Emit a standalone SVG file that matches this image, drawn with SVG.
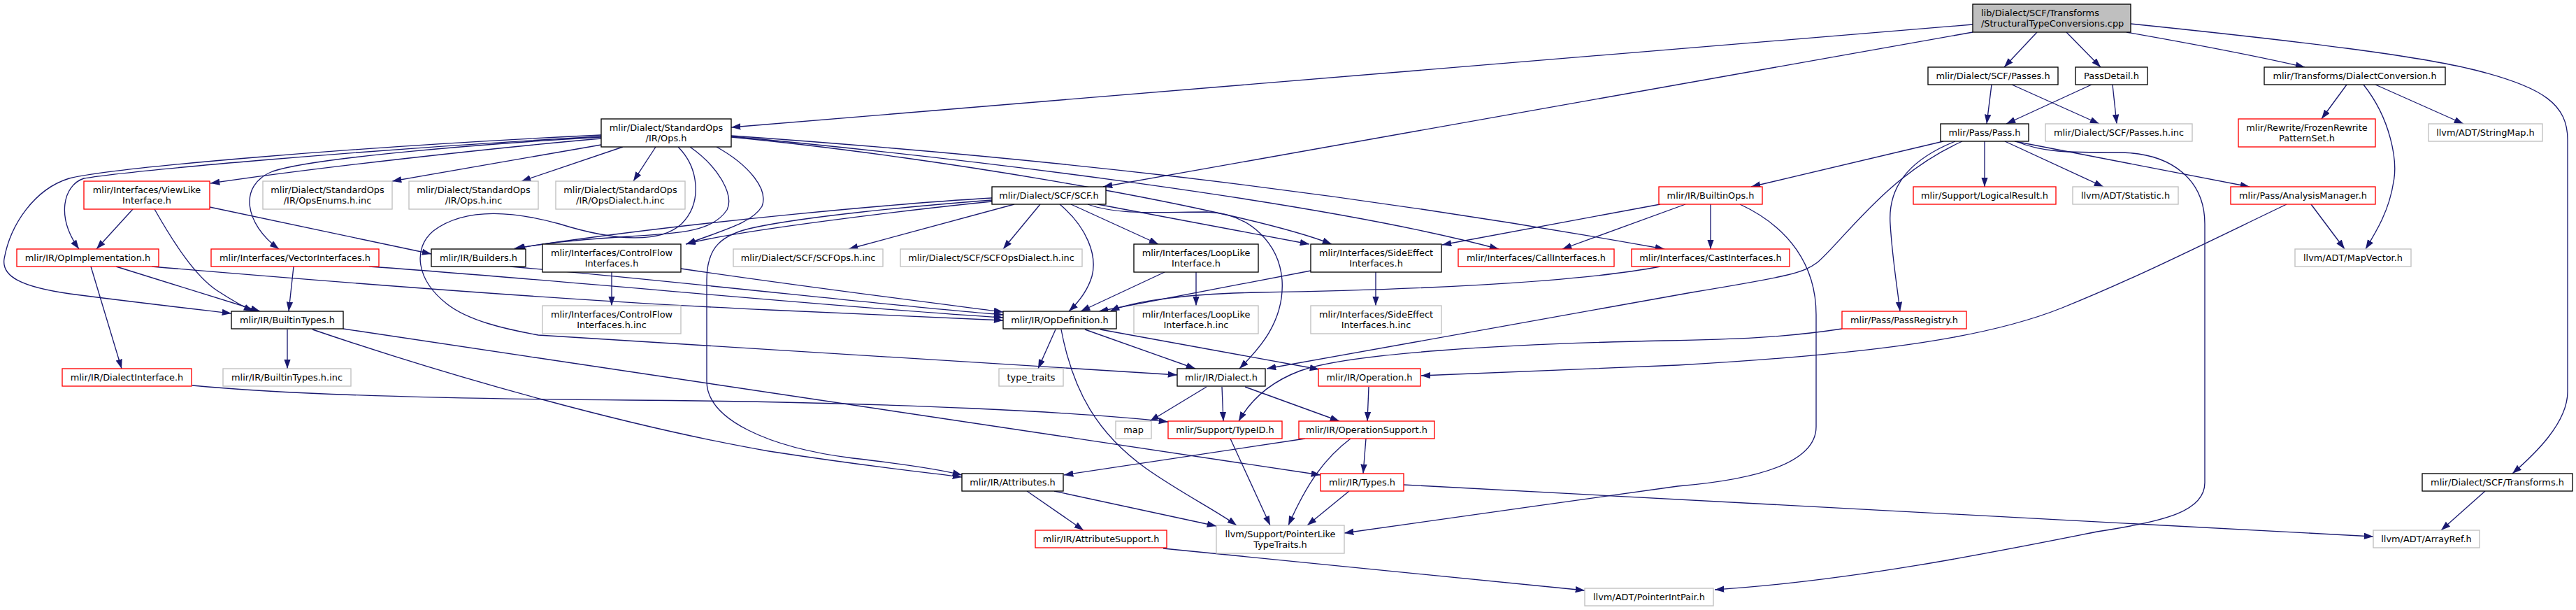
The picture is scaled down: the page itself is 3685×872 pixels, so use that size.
<svg xmlns="http://www.w3.org/2000/svg" width="3685" height="872" viewBox="0 0 3685 872">
<defs>
<style>
.k{fill:#fff;stroke:#000;stroke-width:1.33}
.r{fill:#fff;stroke:#f00;stroke-width:1.33}
.g{fill:#fff;stroke:#bfbfbf;stroke-width:1.33}
.rt{fill:#bfbfbf;stroke:#000;stroke-width:1.33}
text{font-family:"DejaVu Sans","Liberation Sans",sans-serif;font-size:12.9px;fill:#000;text-anchor:middle}
text.l{text-anchor:start}
.e{fill:none;stroke:#191970;stroke-width:1.33;marker-end:url(#ah)}
</style>
<marker id="ah" markerUnits="userSpaceOnUse" markerWidth="14" markerHeight="10" refX="13.3" refY="4.7" orient="auto">
<path d="M0,0 L13.3,4.7 L0,9.4 Z" fill="#191970"/>
</marker>
</defs>
<rect width="3685" height="872" fill="#fff"/>
<g id="edges">
<path class="e" d="M2822,35 L1046,182"/>
<path class="e" d="M2822,46 L1578,267"/>
<path class="e" d="M2914,46 L2867,96"/>
<path class="e" d="M2956,46 L3005,96"/>
<path class="e" d="M3042,46 C3150,65 3250,85 3297,96"/>
<path class="e" d="M3048,34 C3300,60 3460,80 3540,100 C3640,125 3673,150 3673,200 L3673,560 C3673,605 3625,650 3594,677"/>
<path class="e" d="M2849,121 L2842,177"/>
<path class="e" d="M2878,121 L3003,177"/>
<path class="e" d="M2992,121 L2870,177"/>
<path class="e" d="M3022,121 L3028,177"/>
<path class="e" d="M3357,121 L3321,170"/>
<path class="e" d="M3381,121 C3420,170 3430,230 3424,260 C3418,300 3400,330 3384,356"/>
<path class="e" d="M3398,121 L3524,177"/>
<path class="e" d="M2780,202 L2505,267"/>
<path class="e" d="M2839,202 L2839,267"/>
<path class="e" d="M2868,202 L3009,267"/>
<path class="e" d="M2882,202 L3218,267"/>
<path class="e" d="M2797,202 C2740,225 2700,260 2704,320 C2707,370 2714,410 2718,445"/>
<path class="e" d="M2807,202 C2700,250 2640,340 2600,375 C2580,390 2560,395 2420,418 L1812,527"/>
<path class="e" d="M2884,202 C2920,218 2960,218 3030,218 C3110,218 3154,260 3154,320 L3154,690 C3154,730 3100,745 3000,760 C2850,790 2650,830 2453,843"/>
<path class="e" d="M2375,292 L2063,350"/>
<path class="e" d="M2411,292 L2235,356"/>
<path class="e" d="M2447,292 L2447,356"/>
<path class="e" d="M2489,292 C2560,325 2598,380 2598,450 L2598,610 C2598,660 2520,685 2400,695 C2250,715 2050,745 1923,762"/>
<path class="e" d="M3306,292 L3354,356"/>
<path class="e" d="M3271,292 C3150,350 3050,400 2950,440 C2850,480 2700,505 2400,522 C2250,528 2100,535 2033,537"/>
<path class="e" d="M2635,470 C2550,483 2480,485 2380,487 C2150,492 1930,505 1860,530 C1820,545 1790,570 1772,602"/>
<path class="e" d="M1451,292 L1214,356"/>
<path class="e" d="M1488,292 L1435,356"/>
<path class="e" d="M1516,292 C1555,325 1570,365 1562,395 C1556,415 1545,430 1529,445"/>
<path class="e" d="M1532,292 L1657,349"/>
<path class="e" d="M1556,292 C1600,308 1660,303 1726,303 C1790,305 1830,350 1834,400 C1838,460 1800,500 1773,527"/>
<path class="e" d="M1570,292 L1873,349"/>
<path class="e" d="M1419,283 C1300,290 1000,315 736,355"/>
<path class="e" d="M1419,288 C1300,300 1050,330 981,349"/>
<path class="e" d="M1419,286 C1300,295 1150,310 1080,325 C1030,335 1011,355 1011,400 L1011,545 C1011,600 1100,640 1220,655 C1290,663 1340,670 1376,679"/>
<path class="e" d="M891,210 L746,259"/>
<path class="e" d="M938,210 L906,259"/>
<path class="e" d="M970,210 C1000,240 1005,290 975,320 C945,348 880,345 800,320 C720,298 660,300 620,330 C590,355 595,400 640,435 C670,458 720,470 770,479 L1684,536"/>
<path class="e" d="M987,210 C1030,240 1050,280 1040,300 C1020,330 980,333 900,338 C820,343 770,348 738,356"/>
<path class="e" d="M1025,210 C1070,235 1100,270 1090,295 C1075,320 1030,330 982,349"/>
<path class="e" d="M1046,196 C1350,225 1780,300 1905,349"/>
<path class="e" d="M1046,195 C1400,228 1900,290 2144,356"/>
<path class="e" d="M1046,194 C1446,222 1881,266 2381,356"/>
<path class="e" d="M860,207 L561,259"/>
<path class="e" d="M860,198 C700,212 450,240 301,262"/>
<path class="e" d="M860,196 C700,205 450,225 390,245 C340,265 350,320 399,356"/>
<path class="e" d="M860,195 C500,215 180,245 120,255 C90,265 80,310 113,356"/>
<path class="e" d="M860,193 C500,210 160,240 99,255 C50,270 15,320 6,370 C2,395 30,410 100,420 C200,433 280,442 331,448"/>
<path class="e" d="M190,299 L138,356"/>
<path class="e" d="M221,299 C250,350 280,395 310,415 C330,428 345,437 362,445"/>
<path class="e" d="M300,296 L617,363"/>
<path class="e" d="M130,381 L174,527"/>
<path class="e" d="M166,381 L372,445"/>
<path class="e" d="M217,381 C500,405 850,432 1100,443 C1300,452 1400,456 1435,458"/>
<path class="e" d="M420,381 L413,445"/>
<path class="e" d="M528,381 C800,400 1200,440 1435,454"/>
<path class="e" d="M730,381 C1000,405 1300,440 1435,450"/>
<path class="e" d="M974,384 C1150,410 1350,435 1435,446"/>
<path class="e" d="M875,389 L875,437"/>
<path class="e" d="M1666,389 L1546,445"/>
<path class="e" d="M1711,389 L1711,437"/>
<path class="e" d="M1875,387 L1572,445"/>
<path class="e" d="M2375,381 C2250,405 2000,415 1800,418 C1700,420 1620,430 1588,445"/>
<path class="e" d="M1968,389 L1968,437"/>
<path class="e" d="M411,471 L411,527"/>
<path class="e" d="M447,471 C650,540 900,610 1100,645 C1250,668 1330,676 1376,682"/>
<path class="e" d="M491,470 L1889,679"/>
<path class="e" d="M275,551 C400,563 600,570 900,572 C1300,575 1550,590 1671,603"/>
<path class="e" d="M1510,471 L1485,527"/>
<path class="e" d="M1552,471 L1710,527"/>
<path class="e" d="M1518,471 C1535,560 1570,620 1640,670 C1690,705 1740,730 1769,751"/>
<path class="e" d="M1574,471 L1887,528"/>
<path class="e" d="M1726,553 L1645,602"/>
<path class="e" d="M1748,553 L1750,602"/>
<path class="e" d="M1781,553 L1916,602"/>
<path class="e" d="M1958,553 L1956,602"/>
<path class="e" d="M1760,627 L1817,751"/>
<path class="e" d="M1867,627 L1522,679"/>
<path class="e" d="M1954,627 L1950,677"/>
<path class="e" d="M1932,627 C1895,655 1870,690 1843,751"/>
<path class="e" d="M1930,702 L1870,751"/>
<path class="e" d="M2008,693 L3395,767"/>
<path class="e" d="M1469,702 L1550,758"/>
<path class="e" d="M1508,702 L1740,752"/>
<path class="e" d="M1664,784 L2267,844"/>
<path class="e" d="M3555,702 L3492,758"/>
</g>
<g id="n_root"><rect class="rt" x="2822" y="6" width="226" height="40"/><text class="l" x="2834" y="23">lib/Dialect/SCF/Transforms</text><text class="l" x="2834" y="38">/StructuralTypeConversions.cpp</text></g>
<g id="n_passes"><rect class="k" x="2758" y="96" width="186" height="25"/><text x="2851" y="113">mlir/Dialect/SCF/Passes.h</text></g>
<g id="n_passdetail"><rect class="k" x="2969" y="96" width="103" height="25"/><text x="3020.5" y="113">PassDetail.h</text></g>
<g id="n_dconv"><rect class="k" x="3239" y="96" width="259" height="25"/><text x="3368.5" y="113">mlir/Transforms/DialectConversion.h</text></g>
<g id="n_opsh"><rect class="k" x="860" y="170" width="186" height="40"/><text x="953" y="187">mlir/Dialect/StandardOps</text><text x="953" y="202">/IR/Ops.h</text></g>
<g id="n_pass"><rect class="k" x="2776" y="177" width="126" height="25"/><text x="2839" y="194">mlir/Pass/Pass.h</text></g>
<g id="n_passesinc"><rect class="g" x="2926" y="177" width="210" height="25"/><text x="3031" y="194">mlir/Dialect/SCF/Passes.h.inc</text></g>
<g id="n_frozen"><rect class="r" x="3202" y="170" width="196" height="40"/><text x="3300" y="187">mlir/Rewrite/FrozenRewrite</text><text x="3300" y="202">PatternSet.h</text></g>
<g id="n_stringmap"><rect class="g" x="3474" y="177" width="163" height="25"/><text x="3555.5" y="194">llvm/ADT/StringMap.h</text></g>
<g id="n_scf"><rect class="k" x="1419" y="267" width="163" height="25"/><text x="1500.5" y="284">mlir/Dialect/SCF/SCF.h</text></g>
<g id="n_builtinops"><rect class="r" x="2373" y="267" width="148" height="25"/><text x="2447" y="284">mlir/IR/BuiltinOps.h</text></g>
<g id="n_logical"><rect class="r" x="2737" y="267" width="204" height="25"/><text x="2839" y="284">mlir/Support/LogicalResult.h</text></g>
<g id="n_statistic"><rect class="g" x="2965" y="267" width="151" height="25"/><text x="3040.5" y="284">llvm/ADT/Statistic.h</text></g>
<g id="n_analysis"><rect class="r" x="3191" y="267" width="207" height="25"/><text x="3294.5" y="284">mlir/Pass/AnalysisManager.h</text></g>
<g id="n_viewlike"><rect class="r" x="120" y="259" width="180" height="40"/><text x="210" y="276">mlir/Interfaces/ViewLike</text><text x="210" y="291">Interface.h</text></g>
<g id="n_opsenums"><rect class="g" x="376" y="259" width="185" height="40"/><text x="468.5" y="276">mlir/Dialect/StandardOps</text><text x="468.5" y="291">/IR/OpsEnums.h.inc</text></g>
<g id="n_opsinc"><rect class="g" x="585" y="259" width="185" height="40"/><text x="677.5" y="276">mlir/Dialect/StandardOps</text><text x="677.5" y="291">/IR/Ops.h.inc</text></g>
<g id="n_opsdialectinc"><rect class="g" x="795" y="259" width="185" height="40"/><text x="887.5" y="276">mlir/Dialect/StandardOps</text><text x="887.5" y="291">/IR/OpsDialect.h.inc</text></g>
<g id="n_opimpl"><rect class="r" x="24" y="356" width="203" height="25"/><text x="125.5" y="373">mlir/IR/OpImplementation.h</text></g>
<g id="n_vector"><rect class="r" x="302" y="356" width="240" height="25"/><text x="422" y="373">mlir/Interfaces/VectorInterfaces.h</text></g>
<g id="n_builders"><rect class="k" x="617" y="356" width="135" height="25"/><text x="684.5" y="373">mlir/IR/Builders.h</text></g>
<g id="n_controlflow"><rect class="k" x="776" y="349" width="198" height="40"/><text x="875" y="366">mlir/Interfaces/ControlFlow</text><text x="875" y="381">Interfaces.h</text></g>
<g id="n_scfopsinc"><rect class="g" x="1049" y="356" width="214" height="25"/><text x="1156" y="373">mlir/Dialect/SCF/SCFOps.h.inc</text></g>
<g id="n_scfopsdialectinc"><rect class="g" x="1288" y="356" width="260" height="25"/><text x="1418" y="373">mlir/Dialect/SCF/SCFOpsDialect.h.inc</text></g>
<g id="n_looplike"><rect class="k" x="1622" y="349" width="178" height="40"/><text x="1711" y="366">mlir/Interfaces/LoopLike</text><text x="1711" y="381">Interface.h</text></g>
<g id="n_sideeffect"><rect class="k" x="1875" y="349" width="187" height="40"/><text x="1968.5" y="366">mlir/Interfaces/SideEffect</text><text x="1968.5" y="381">Interfaces.h</text></g>
<g id="n_callif"><rect class="r" x="2086" y="356" width="223" height="25"/><text x="2197.5" y="373">mlir/Interfaces/CallInterfaces.h</text></g>
<g id="n_castif"><rect class="r" x="2334" y="356" width="226" height="25"/><text x="2447" y="373">mlir/Interfaces/CastInterfaces.h</text></g>
<g id="n_passregistry"><rect class="r" x="2635" y="445" width="178" height="25"/><text x="2724" y="462">mlir/Pass/PassRegistry.h</text></g>
<g id="n_mapvector"><rect class="g" x="3283" y="356" width="166" height="25"/><text x="3366" y="373">llvm/ADT/MapVector.h</text></g>
<g id="n_builtintypes"><rect class="k" x="331" y="445" width="160" height="25"/><text x="411" y="462">mlir/IR/BuiltinTypes.h</text></g>
<g id="n_controlflowinc"><rect class="g" x="776" y="437" width="198" height="40"/><text x="875" y="454">mlir/Interfaces/ControlFlow</text><text x="875" y="469">Interfaces.h.inc</text></g>
<g id="n_opdef"><rect class="k" x="1435" y="445" width="162" height="25"/><text x="1516" y="462">mlir/IR/OpDefinition.h</text></g>
<g id="n_looplikeinc"><rect class="g" x="1622" y="437" width="178" height="40"/><text x="1711" y="454">mlir/Interfaces/LoopLike</text><text x="1711" y="469">Interface.h.inc</text></g>
<g id="n_sideeffectinc"><rect class="g" x="1875" y="437" width="187" height="40"/><text x="1968.5" y="454">mlir/Interfaces/SideEffect</text><text x="1968.5" y="469">Interfaces.h.inc</text></g>
<g id="n_dialectif"><rect class="r" x="89" y="527" width="185" height="25"/><text x="181.5" y="544">mlir/IR/DialectInterface.h</text></g>
<g id="n_builtintypesinc"><rect class="g" x="319" y="527" width="183" height="25"/><text x="410.5" y="544">mlir/IR/BuiltinTypes.h.inc</text></g>
<g id="n_typetraits"><rect class="g" x="1429" y="527" width="92" height="25"/><text x="1475" y="544">type_traits</text></g>
<g id="n_dialect"><rect class="k" x="1684" y="527" width="126" height="25"/><text x="1747" y="544">mlir/IR/Dialect.h</text></g>
<g id="n_operation"><rect class="r" x="1886" y="527" width="146" height="25"/><text x="1959" y="544">mlir/IR/Operation.h</text></g>
<g id="n_map"><rect class="g" x="1596" y="602" width="51" height="25"/><text x="1621.5" y="619">map</text></g>
<g id="n_typeid"><rect class="r" x="1671" y="602" width="163" height="25"/><text x="1752.5" y="619">mlir/Support/TypeID.h</text></g>
<g id="n_opsupport"><rect class="r" x="1858" y="602" width="194" height="25"/><text x="1955" y="619">mlir/IR/OperationSupport.h</text></g>
<g id="n_attributes"><rect class="k" x="1376" y="677" width="145" height="25"/><text x="1448.5" y="694">mlir/IR/Attributes.h</text></g>
<g id="n_types"><rect class="r" x="1889" y="677" width="119" height="25"/><text x="1948.5" y="694">mlir/IR/Types.h</text></g>
<g id="n_transforms"><rect class="k" x="3465" y="677" width="215" height="25"/><text x="3572.5" y="694">mlir/Dialect/SCF/Transforms.h</text></g>
<g id="n_attrsupport"><rect class="r" x="1481" y="758" width="188" height="25"/><text x="1575" y="775">mlir/IR/AttributeSupport.h</text></g>
<g id="n_pointerlike"><rect class="g" x="1740" y="751" width="183" height="40"/><text x="1831.5" y="768">llvm/Support/PointerLike</text><text x="1831.5" y="783">TypeTraits.h</text></g>
<g id="n_arrayref"><rect class="g" x="3395" y="758" width="152" height="25"/><text x="3471" y="775">llvm/ADT/ArrayRef.h</text></g>
<g id="n_pointerintpair"><rect class="g" x="2267" y="841" width="184" height="25"/><text x="2359" y="858">llvm/ADT/PointerIntPair.h</text></g>
</svg>
